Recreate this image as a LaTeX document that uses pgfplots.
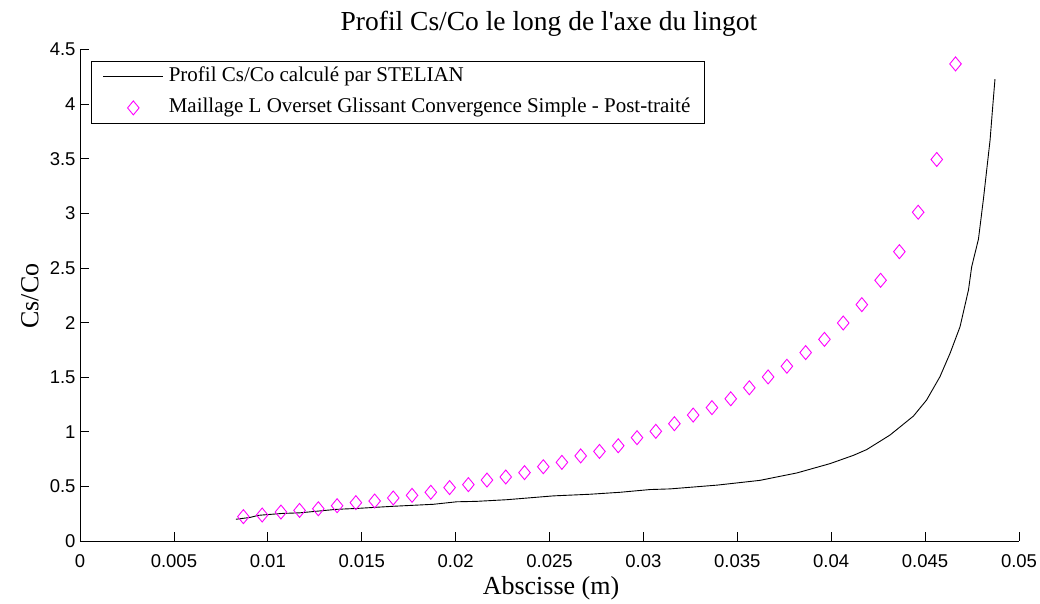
\documentclass[border=0pt]{standalone}
\usepackage{fontspec}
\setmainfont{Liberation Serif}
\newfontfamily\plainserif{Liberation Serif}
\newfontfamily\tickfont{Liberation Sans}
\usepackage{pgfplots}
\pgfplotsset{compat=1.18}
\definecolor{mag}{RGB}{255,0,255}
\begin{document}
\begin{tikzpicture}[x=1pt,y=1pt]
\useasboundingbox (0,0) rectangle (1040,604);
\begin{axis}[at={(80pt,63pt)}, anchor=south west, width=939pt, height=491.5pt, scale only axis,
  xmin=0,xmax=0.05,ymin=0,ymax=4.5,
  axis lines=left, axis line style={-, line width=0.9pt},
  tick align=inside, major tick length=9pt, tick style={line width=0.8pt, black},
  xtick={0,0.005,0.01,0.015,0.02,0.025,0.03,0.035,0.04,0.045,0.05},
  ytick={0,0.5,1,1.5,2,2.5,3,3.5,4,4.5},
  scaled x ticks=false, scaled y ticks=false,
  /pgf/number format/assume math mode=true,
  xticklabel style={font=\tickfont\fontsize{18.5}{18.5}\selectfont, /pgf/number format/fixed, /pgf/number format/precision=3, anchor=center, yshift=-19.7pt},
  yticklabel style={font=\tickfont\fontsize{18.5}{18.5}\selectfont, /pgf/number format/fixed, /pgf/number format/precision=1, anchor=east, xshift=-1pt},
  legend style={at={(axis description cs:0.0117,0.9766)}, anchor=north west, draw=black, line width=0.8pt,
    font=\fontsize{21}{25}\selectfont, inner xsep=11.5pt, inner ysep=2.5pt, row sep=5pt, column sep=2pt,
    nodes={inner sep=3pt, text height=15pt, text depth=5pt}, cells={anchor=west}},
  legend image code/.code={\draw[mark repeat=2,mark phase=2,#1] plot coordinates {(0pt,0pt) (30pt,0pt) (60pt,0pt)};},
  clip=false,
]
\addplot[black, line width=0.9pt, no marks] coordinates {
(0.00830,0.199) (0.00903,0.215) (0.00950,0.235) (0.01074,0.252) (0.01171,0.258)
(0.01367,0.290) (0.01473,0.298) (0.01669,0.318) (0.01881,0.336) (0.02006,0.359)
(0.02112,0.363) (0.02272,0.378) (0.02414,0.398) (0.02520,0.413) (0.02715,0.428)
(0.02876,0.446) (0.03035,0.471) (0.03142,0.477) (0.03395,0.512) (0.03620,0.555)
(0.03817,0.623) (0.03993,0.708) (0.04118,0.784) (0.04189,0.837) (0.04313,0.970)
(0.04438,1.144) (0.04508,1.291) (0.04579,1.504) (0.04633,1.719) (0.04686,1.962)
(0.04731,2.299) (0.04748,2.511) (0.04784,2.763) (0.04810,3.123) (0.04846,3.672)
(0.04860,3.977) (0.04872,4.228)
};
\addlegendentry{Profil Cs/Co calculé par STELIAN}
\addplot[only marks, mark=diamond, mark size=7pt, mag, mark options={xscale=1.1, line width=0.9pt}] coordinates {
(0.00870,0.223) (0.00970,0.238) (0.01070,0.265) (0.01169,0.280) (0.01269,0.295)
(0.01369,0.323) (0.01469,0.351) (0.01569,0.366) (0.01668,0.394) (0.01768,0.418)
(0.01868,0.446) (0.01968,0.489) (0.02068,0.516) (0.02167,0.558) (0.02267,0.586)
(0.02367,0.626) (0.02467,0.680) (0.02566,0.720) (0.02666,0.779) (0.02766,0.820)
(0.02866,0.872) (0.02966,0.946) (0.03066,1.004) (0.03165,1.074) (0.03265,1.153)
(0.03365,1.221) (0.03465,1.302) (0.03564,1.403) (0.03664,1.502) (0.03764,1.600)
(0.03864,1.725) (0.03964,1.846) (0.04064,1.996) (0.04163,2.164) (0.04263,2.387)
(0.04363,2.649) (0.04463,3.010) (0.04562,3.493) (0.04662,4.368)
};
\addlegendentry{Maillage L Overset Glissant Convergence Simple - Post-traité}
\end{axis}
\node[font=\plainserif\fontsize{27.5}{27.5}\selectfont, anchor=base] at (549,573.3) {Profil Cs/Co le long de l'axe du lingot};
\node[font=\fontsize{26}{26}\selectfont] at (551,16) {Abscisse (m)};
\node[font=\fontsize{26}{26}\selectfont, rotate=90] at (30,308) {Cs/Co};
\end{tikzpicture}
\end{document}
